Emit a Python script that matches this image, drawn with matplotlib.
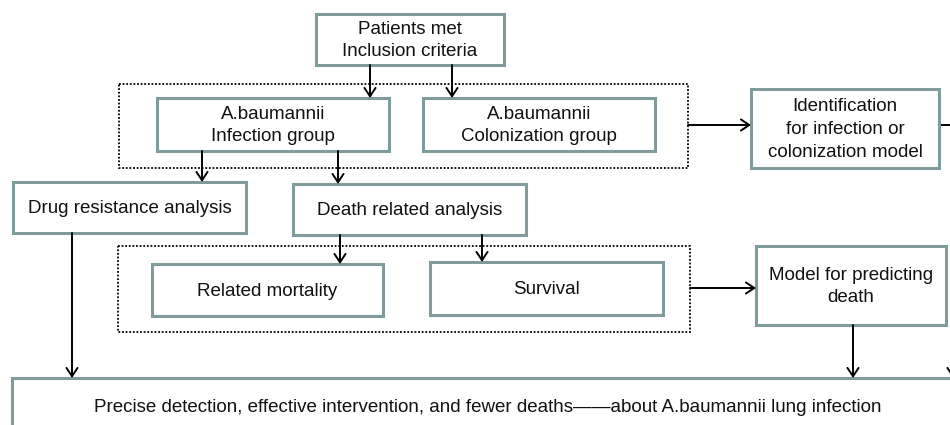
import matplotlib as mpl
mpl.use('Agg')
from matplotlib import pyplot as plt
from matplotlib.patches import Rectangle, FancyArrowPatch

# box labels
labels = ["Patients met\nInclusion criteria",
          "A.baumannii\nInfection group",
          "A.baumannii\nColonization group",
          "Identification\nfor infection or\ncolonization model",
          "Drug resistance analysis",
          "Death related analysis",
          "Related mortality",
          "Survival",
          "Model for predicting\ndeath",
          "Precise detection, effective intervention, and fewer deaths\u2014\u2014about A.baumannii lung infection"]

# box geometry in pixels: x0, y0, x1, y1 (y down)
boxes = [(316, 14, 504, 65),
         (157, 98, 389, 151),
         (423, 98, 655, 151),
         (751, 89, 939, 168),
         (13, 182, 246, 233),
         (293, 184, 526, 235),
         (152, 264, 383, 316),
         (430, 262, 663, 315),
         (756, 246, 946, 325),
         (12, 378, 960, 440)]

# dotted group frames
groups = [(119, 84, 688, 168),
          (118, 246, 690, 332)]

# arrows (x0, y0) -> (x1, y1)
arrows = [((370, 65), (370, 98)),
          ((452, 65), (452, 98)),
          ((202, 151), (202, 182)),
          ((338, 151), (338, 184)),
          ((688, 125), (751, 125)),
          ((340, 235), (340, 264)),
          ((482, 235), (482, 262)),
          ((690, 288), (756, 288)),
          ((72, 233), (72, 378)),
          ((853, 325), (853, 378)),
          ((953, 240), (953, 378))]

# plain lines
lines = [((939, 125), (960, 125))]

edge = '#7f9b9b'
fsize = 13.5

fig = plt.figure(figsize=(9.5, 4.25), dpi=100)
ax = fig.add_axes([0, 0, 1, 1])
ax.set_xlim(0, 950)
ax.set_ylim(425, 0)
ax.axis('off')

for (x0, y0, x1, y1) in groups:
    ax.add_patch(Rectangle((x0, y0), x1 - x0, y1 - y0, fill=False,
                           ec='black', lw=1.3, ls=(0, (1, 1))))

for i, (x0, y0, x1, y1) in enumerate(boxes):
    ax.add_patch(Rectangle((x0, y0), x1 - x0, y1 - y0, fc='white',
                           ec=edge, lw=2.2, zorder=2))
    if i == len(boxes) - 1:
        ax.text(488, 407, labels[i], ha='center', va='center', fontsize=13.5,
                family='Liberation Sans', color='#111111', zorder=3)
    else:
        ax.text((x0 + x1) / 2, (y0 + y1) / 2 + 1, labels[i], ha='center',
                va='center', fontsize=fsize, family='Liberation Sans',
                color='#111111', linespacing=1.45, zorder=3)

for (p0, p1) in arrows:
    ax.add_patch(FancyArrowPatch(p0, p1, arrowstyle='->,head_length=6,head_width=4',
                                 mutation_scale=1, lw=1.4, color='black',
                                 shrinkA=0, shrinkB=0, zorder=4))

for (p0, p1) in lines:
    ax.plot([p0[0], p1[0]], [p0[1], p1[1]], color='black', lw=1.4, zorder=1)

fig.savefig('out.png', dpi=100, facecolor='white')
